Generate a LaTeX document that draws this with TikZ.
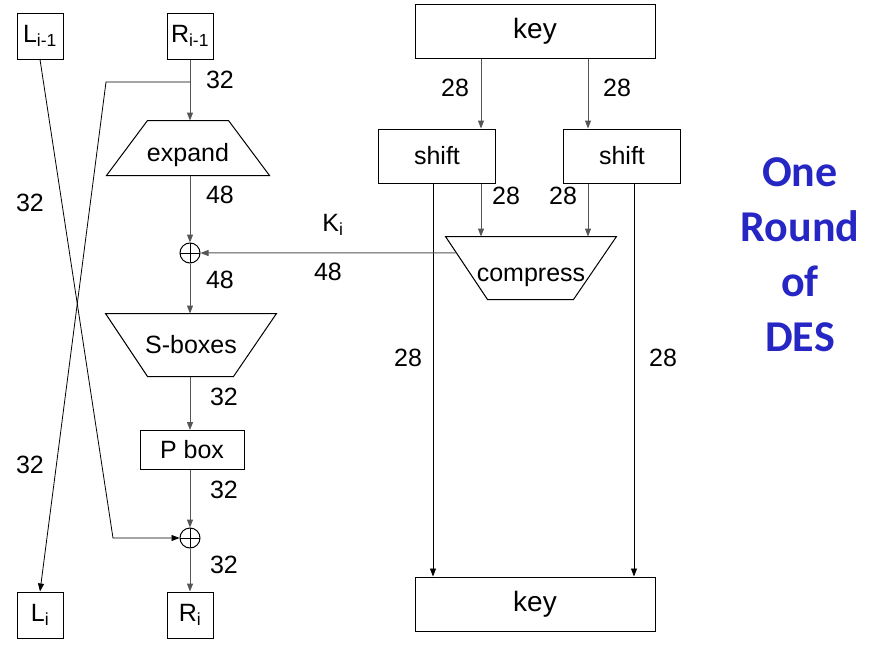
\documentclass[tikz,border=0pt]{standalone}
\usepackage{fontspec}
\setmainfont{Liberation Sans}
\newfontfamily\titlefont{Carlito}
\usetikzlibrary{arrows.meta,calc}
\definecolor{desblue}{RGB}{38,38,196}
\definecolor{wiregray}{RGB}{85,85,85}

\begin{document}
\begin{tikzpicture}[x=1pt, y=-1pt, line width=1pt,
    txt/.style={font=\fontsize{25}{29}\selectfont},
    box/.style={draw, txt, inner sep=0pt},
    half/.style={box, minimum width=46, minimum height=46},
    trapbody/.style={txt, inner sep=0pt},
    lowtext/.style={text height=26pt, text depth=0pt},
    xorop/.style={draw, circle, inner sep=0pt, minimum size=20,
        path picture={\draw[line width=0.8pt]
            (path picture bounding box.north) -- (path picture bounding box.south)
            (path picture bounding box.west) -- (path picture bounding box.east);}},
    wire/.style={draw=wiregray, -{Triangle[length=8pt,width=6pt]}},
    line/.style={draw=black, line width=0.8pt},
    num/.style={txt}]

    \useasboundingbox (0,0) rectangle (876,645);

    % left half: the Feistel round
    \node (lprev) at (40,36) [half] {L\textsubscript{i-1}};
    \node (rprev) at (190,36) [half] {R\textsubscript{i-1}};
    \node (li) at (40,615) [half] {L\textsubscript{i}};
    \node (ri) at (190,615) [half] {R\textsubscript{i}};

    \node (expand) at (188,148) [trapbody, lowtext, minimum width=162, minimum height=54] {expand};
    \node (xor1) at (190,253) [xorop] {};
    \node (sbox) at (191,345) [trapbody, minimum width=170, minimum height=62] {S-boxes};
    \node (pbox) at (192,450) [box, minimum width=104, minimum height=39] {P box};
    \node (xor2) at (190,538) [xorop] {};

    % trapezium outlines
    \draw (expand.south west) -- (expand.south east)
        -- ($(expand.north east)+(-41,0)$) -- ($(expand.north west)+(41,0)$) -- cycle;
    \draw (sbox.north west) -- (sbox.north east)
        -- ($(sbox.south east)+(-43,0)$) -- ($(sbox.south west)+(42,0)$) -- cycle;

    \coordinate (split) at (190,82);
    \coordinate (bend) at (106,82);
    \coordinate (cross) at (113,538);

    \draw[wire] (rprev) -- (rprev |- expand.north);
    \draw[wire] (xor1 |- expand.south) -- (xor1);
    \draw[wire] (xor1) -- (xor1 |- sbox.north);
    \draw[wire] (xor1 |- sbox.south) -- (xor1 |- pbox.north);
    \draw[wire] (xor2 |- pbox.south) -- (xor2);
    \draw[wire] (xor2) -- (ri);
    \draw[line, -{Triangle[length=8pt,width=6pt]}] (split) -- (bend) -- (li.north);
    \draw[line, -{Triangle[length=8pt,width=6pt]}] (lprev.south) -- (cross) -- (xor2.west);

    \node (n1) at (220,80) [num] {32};
    \node (n2) at (220,195) [num] {48};
    \node (n3) at (220,280) [num] {48};
    \node (n4) at (224,397) [num] {32};
    \node (n5) at (224,490) [num] {32};
    \node (n6) at (224,565) [num] {32};
    \node (n7) at (30,203) [num] {32};
    \node (n8) at (30,465) [num] {32};

    % right half: the key schedule
    \node (keytop) at (535,31) [box, minimum width=240, minimum height=54,
        font=\fontsize{28}{30}\selectfont] {key};
    \node (shiftl) at (437,156) [box, minimum width=117, minimum height=54] {shift};
    \node (shiftr) at (622,156) [box, minimum width=117, minimum height=54] {shift};
    \node (compress) at (531,268) [trapbody, lowtext, minimum width=170, minimum height=62] {compress};
    \node (keybot) at (535,604) [box, minimum width=240, minimum height=54,
        font=\fontsize{28}{30}\selectfont] {key};

    \draw (compress.north west) -- (compress.north east)
        -- ($(compress.south east)+(-43,0)$) -- ($(compress.south west)+(42,0)$) -- cycle;

    \coordinate (colA) at (481,0);
    \coordinate (colB) at (588,0);
    \coordinate (colC) at (433,0);
    \coordinate (colD) at (634,0);
    \coordinate (kin) at ($(compress.north west)!0.26!($(compress.south west)+(42,0)$)$);

    \draw[wire] (keytop.south -| colA) -- (shiftl.north -| colA);
    \draw[wire] (keytop.south -| colB) -- (shiftr.north -| colB);
    \draw[wire] (shiftl.south -| colA) -- (compress.north -| colA);
    \draw[wire] (shiftr.south -| colB) -- (compress.north -| colB);
    \draw[line, -{Triangle[length=8pt,width=6pt]}] (shiftl.south -| colC) -- (keybot.north -| colC);
    \draw[line, -{Triangle[length=8pt,width=6pt]}] (shiftr.south -| colD) -- (keybot.north -| colD);
    \draw[wire] (kin) -- (xor1.east);

    \node (m1) at (455,88) [num] {28};
    \node (m2) at (617,88) [num] {28};
    \node (m3) at (506,196) [num] {28};
    \node (m4) at (563,196) [num] {28};
    \node (m5) at (408,358) [num] {28};
    \node (m6) at (663,358) [num] {28};
    \node (ki) at (333,225) [num] {K\textsubscript{i}};
    \node (m7) at (328,272) [num] {48};

    \node (title) at (800,255) [align=center, text=desblue,
        font=\titlefont\bfseries\fontsize{44}{55}\selectfont] {One\\Round\\of\\DES};
\end{tikzpicture}
\end{document}
